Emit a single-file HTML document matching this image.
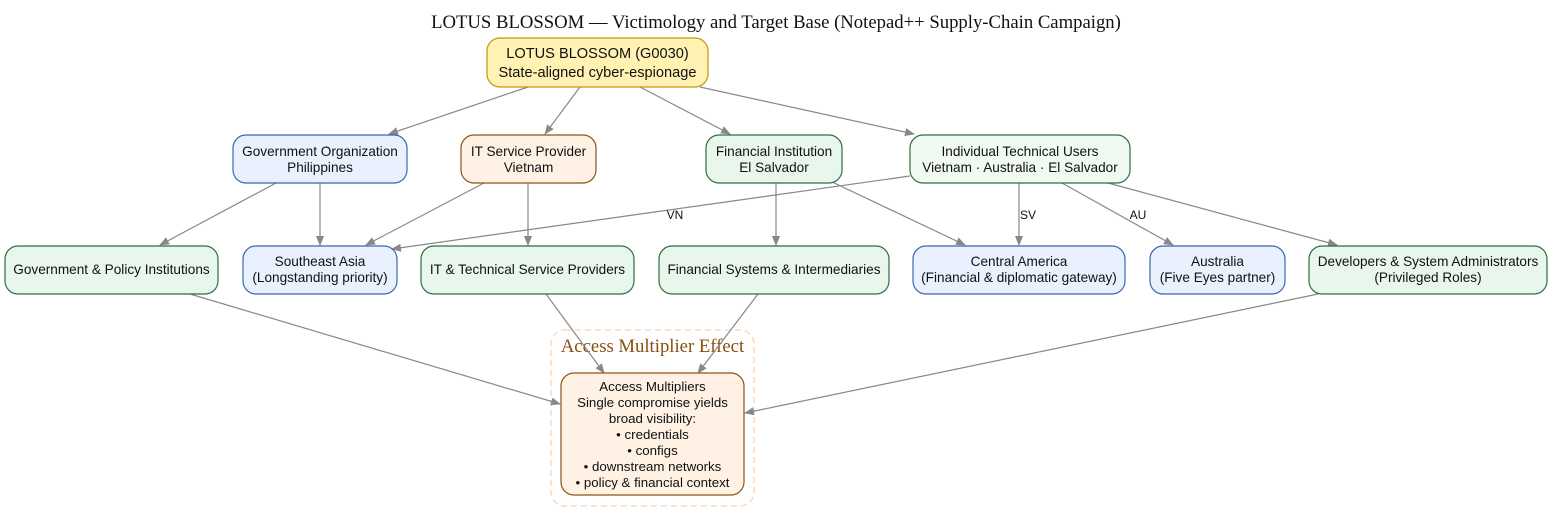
<!DOCTYPE html>
<html><head><meta charset="utf-8"><style>
html,body{margin:0;padding:0;background:#fff;}
svg{display:block;}
text{font-family:"Liberation Sans",sans-serif;font-size:13.6px;fill:#111;}
.t{font-family:"Liberation Serif",serif;}
</style></head><body>
<svg width="1553" height="523" viewBox="0 0 1553 523" xmlns="http://www.w3.org/2000/svg">
<defs>
<marker id="a" markerWidth="10" markerHeight="8" refX="9" refY="4" orient="auto" markerUnits="userSpaceOnUse">
<path d="M0,0 L10,4 L0,8 z" fill="#888"/></marker>
</defs>
<text class="t" x="776" y="28" text-anchor="middle" style="font-size:18.7px">LOTUS BLOSSOM — Victimology and Target Base (Notepad++ Supply-Chain Campaign)</text>

<rect x="551" y="330" width="203" height="176" rx="14" fill="#fff" stroke="#fdd3b0" stroke-dasharray="6,4" stroke-width="1.3"/>
<text class="t" x="652.5" y="352" text-anchor="middle" style="font-size:18.7px;fill:#8a4e10">Access Multiplier Effect</text>

<g stroke="#888" stroke-width="1.2" fill="none" marker-end="url(#a)">
<line x1="528" y1="87" x2="389" y2="134"/>
<line x1="580" y1="87" x2="545" y2="134"/>
<line x1="640" y1="87" x2="730" y2="134"/>
<line x1="700" y1="87" x2="914" y2="134"/>
<line x1="276" y1="183" x2="160" y2="245"/>
<line x1="320" y1="183" x2="320" y2="245"/>
<line x1="484" y1="183" x2="366" y2="245"/>
<line x1="528" y1="183" x2="528" y2="245"/>
<line x1="910" y1="176" x2="392" y2="249"/>
<line x1="776" y1="183" x2="776" y2="245"/>
<line x1="830" y1="181" x2="965" y2="245"/>
<line x1="1019" y1="183" x2="1019" y2="245"/>
<line x1="1062" y1="183" x2="1173" y2="245"/>
<line x1="1108" y1="183" x2="1337" y2="245"/>
<line x1="190" y1="294" x2="560" y2="404"/>
<line x1="546" y1="294" x2="604" y2="373"/>
<line x1="758" y1="294" x2="698" y2="373"/>
<line x1="1318" y1="294" x2="745" y2="413"/>
</g>
<text x="675" y="219" text-anchor="middle" style="font-size:12px">VN</text>
<text x="1028" y="219" text-anchor="middle" style="font-size:12px">SV</text>
<text x="1138" y="219" text-anchor="middle" style="font-size:12px">AU</text>

<rect x="487" y="38" width="221" height="49" rx="13" fill="#fff2b3" stroke="#c8960a" stroke-width="1.2"/>
<text x="597.5" y="58" text-anchor="middle" style="font-size:14.6px">LOTUS BLOSSOM (G0030)</text>
<text x="597.5" y="77" text-anchor="middle" style="font-size:14.6px">State-aligned cyber-espionage</text>

<g stroke-width="1.2">
<rect x="233" y="135" width="174" height="48" rx="13" fill="#e8f1fd" stroke="#3a66b0"/>
<rect x="461" y="135" width="135" height="48" rx="13" fill="#fff1e3" stroke="#8a5516"/>
<rect x="706" y="135" width="136" height="48" rx="13" fill="#e9f6ec" stroke="#2e6e3e"/>
<rect x="910" y="135" width="220" height="48" rx="13" fill="#f1f9f3" stroke="#2e6e3e"/>
<rect x="5" y="246" width="213" height="48" rx="13" fill="#e9f6ec" stroke="#2e6e3e"/>
<rect x="243" y="246" width="154" height="48" rx="13" fill="#e8f1fd" stroke="#3a66b0"/>
<rect x="421" y="246" width="213" height="48" rx="13" fill="#e9f6ec" stroke="#2e6e3e"/>
<rect x="659" y="246" width="230" height="48" rx="13" fill="#e9f6ec" stroke="#2e6e3e"/>
<rect x="913" y="246" width="212" height="48" rx="13" fill="#e8f1fd" stroke="#3a66b0"/>
<rect x="1150" y="246" width="135" height="48" rx="13" fill="#e8f1fd" stroke="#3a66b0"/>
<rect x="1309" y="246" width="238" height="48" rx="13" fill="#e9f6ec" stroke="#2e6e3e"/>
<rect x="561" y="373" width="183" height="122" rx="13" fill="#fff1e3" stroke="#8a5516"/>
</g>

<text x="320" y="156" text-anchor="middle">Government Organization</text>
<text x="320" y="172" text-anchor="middle">Philippines</text>
<text x="528.5" y="156" text-anchor="middle">IT Service Provider</text>
<text x="528.5" y="172" text-anchor="middle">Vietnam</text>
<text x="774" y="156" text-anchor="middle">Financial Institution</text>
<text x="774" y="172" text-anchor="middle">El Salvador</text>
<text x="1020" y="156" text-anchor="middle">Individual Technical Users</text>
<text x="1020" y="172" text-anchor="middle">Vietnam · Australia · El Salvador</text>

<text x="111.5" y="274" text-anchor="middle">Government &amp; Policy Institutions</text>
<text x="320" y="266" text-anchor="middle">Southeast Asia</text>
<text x="320" y="282" text-anchor="middle">(Longstanding priority)</text>
<text x="527.5" y="274" text-anchor="middle">IT &amp; Technical Service Providers</text>
<text x="774" y="274" text-anchor="middle">Financial Systems &amp; Intermediaries</text>
<text x="1019" y="266" text-anchor="middle">Central America</text>
<text x="1019" y="282" text-anchor="middle">(Financial &amp; diplomatic gateway)</text>
<text x="1217.5" y="266" text-anchor="middle">Australia</text>
<text x="1217.5" y="282" text-anchor="middle">(Five Eyes partner)</text>
<text x="1428" y="266" text-anchor="middle">Developers &amp; System Administrators</text>
<text x="1428" y="282" text-anchor="middle">(Privileged Roles)</text>

<g>
<text x="652.5" y="391" text-anchor="middle" style="font-size:13.3px">Access Multipliers</text>
<text x="652.5" y="407" text-anchor="middle" style="font-size:13.3px">Single compromise yields</text>
<text x="652.5" y="423" text-anchor="middle" style="font-size:13.3px">broad visibility:</text>
<text x="652.5" y="439" text-anchor="middle" style="font-size:13.3px">• credentials</text>
<text x="652.5" y="455" text-anchor="middle" style="font-size:13.3px">• configs</text>
<text x="652.5" y="471" text-anchor="middle" style="font-size:13.3px">• downstream networks</text>
<text x="652.5" y="487" text-anchor="middle" style="font-size:13.3px">• policy &amp; financial context</text>
</g>
</svg>
</body></html>
